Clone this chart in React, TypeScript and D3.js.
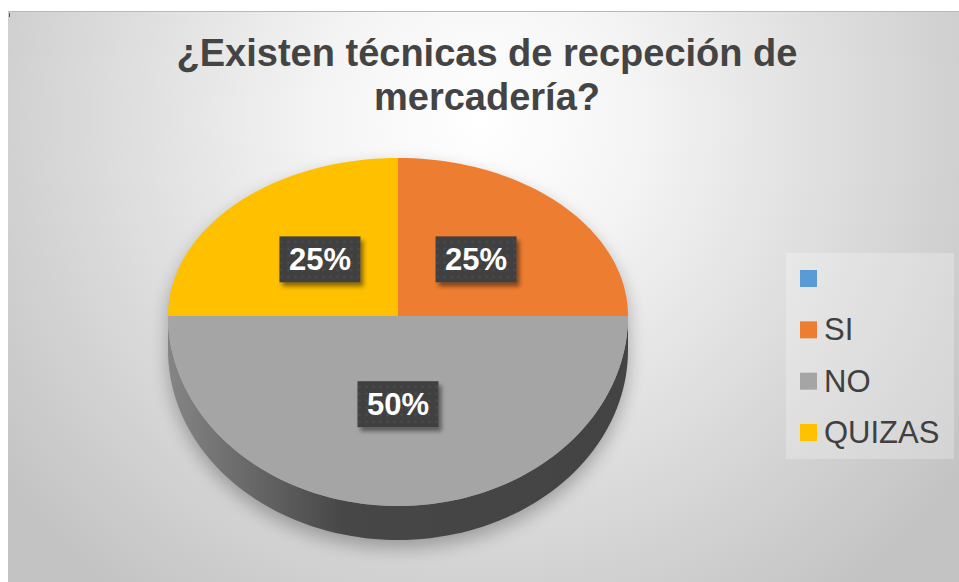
import React from "react";
import * as d3 from "d3";

// chart data
const categories = ["", "SI", "NO", "QUIZAS"];
const values = [0, 25, 50, 25];
const colors = ["#5B9BD5", "#ED7D31", "#A5A5A5", "#FFC000"];
const titleLines = ["¿Existen técnicas de recpeción de", "mercadería?"];

const W = 959;
const H = 582;
const FONT = "'Liberation Sans', Arial, sans-serif";

// pie geometry (tilted, near half drawn a bit taller)
const cx = 398;
const cy = 316;
const rx = 230;
const ryTop = 158;
const ryBot = 190;
const depth = 34;

const proj = (a: number, f = 1, dz = 0): [number, number] => {
  const c = Math.cos(a);
  const ry = c > 0 ? ryTop : ryBot;
  return [cx + rx * f * Math.sin(a), cy - ry * f * c + dz];
};

const arcPoints = (a0: number, a1: number, dz = 0) => {
  const n = Math.max(2, Math.ceil(((a1 - a0) / Math.PI) * 90));
  return d3.range(n + 1).map((i) => proj(a0 + ((a1 - a0) * i) / n, 1, dz));
};

const line = d3.line();

const App = () => {
  const pieGen = d3
    .pie<number>()
    .sort(null)
    .value((d) => d);
  const slices = pieGen(values);

  const legendY = d3.scalePoint<string>().domain(categories).range([270, 424]);

  // side wall: front half only (PI/2 .. 3PI/2)
  const sides = slices
    .map((s, i) => {
      const a0 = Math.max(s.startAngle, Math.PI / 2);
      const a1 = Math.min(s.endAngle, (3 * Math.PI) / 2);
      if (a1 <= a0) return null;
      const top = arcPoints(a0, a1);
      const bot = arcPoints(a0, a1, depth).reverse();
      return { i, d: line([...top, ...bot]) + "Z" };
    })
    .filter(Boolean) as { i: number; d: string }[];

  const outline =
    line([
      ...arcPoints(-Math.PI / 2, Math.PI / 2),
      ...arcPoints(Math.PI / 2, (3 * Math.PI) / 2, depth),
    ]) + "Z";

  return (
    <svg
      width={W}
      height={H}
      style={{ position: "absolute", left: 0, top: 0 }}
      fontFamily={FONT}
    >
      <defs>
        <radialGradient
          id="bg"
          gradientUnits="userSpaceOnUse"
          cx={480}
          cy={120}
          r={600}
        >
          <stop offset="0" stopColor="#ffffff" />
          <stop offset="0.25" stopColor="#f5f5f5" />
          <stop offset="0.8" stopColor="#d0d0d0" />
          <stop offset="1" stopColor="#c3c3c3" />
        </radialGradient>
        <linearGradient id="side" x1="0" x2="1" y1="0" y2="0">
          <stop offset="0" stopColor="#858585" />
          <stop offset="0.38" stopColor="#474747" />
          <stop offset="1" stopColor="#434343" />
        </linearGradient>
        <filter id="blur" x="-20%" y="-20%" width="140%" height="140%">
          <feGaussianBlur stdDeviation="9" />
        </filter>
        <filter id="lblShadow" x="-20%" y="-20%" width="150%" height="150%">
          <feDropShadow dx="3" dy="4" stdDeviation="2" floodColor="#000" floodOpacity="0.45" />
        </filter>
        <pattern id="dots" width="7" height="7" patternUnits="userSpaceOnUse">
          <rect width="7" height="7" fill="#404040" />
          <circle cx="3.5" cy="3.5" r="1.3" fill="#4c4c4c" />
        </pattern>
      </defs>

      <rect x={0} y={0} width={W} height={H} fill="#fff" />
      <rect x={8} y={11} width={W - 8} height={H - 11} fill="url(#bg)" />
      <line x1={8} x2={W} y1={11.5} y2={11.5} stroke="#b9b9b9" />
      <line x1={9.5} x2={9.5} y1={13} y2={17} stroke="#555" />

      {titleLines.map((t, i) => (
        <text
          key={i}
          x={487}
          y={66 + i * 44}
          textAnchor="middle"
          fontSize={38}
          fontWeight="bold"
          fill="#444"
        >
          {t}
        </text>
      ))}

      {/* shadow */}
      <path
        d={outline}
        transform="translate(0,8)"
        fill="#000"
        opacity={0.28}
        filter="url(#blur)"
      />

      {sides.map((s) => (
        <path key={"s" + s.i} d={s.d} fill="url(#side)" />
      ))}

      {slices.map((s, i) =>
        s.endAngle > s.startAngle ? (
          <path
            key={"t" + i}
            d={line([[cx, cy], ...arcPoints(s.startAngle, s.endAngle)]) + "Z"}
            fill={colors[i]}
          />
        ) : null
      )}

      {slices.map((s, i) => {
        if (s.endAngle <= s.startAngle) return null;
        const [lx, ly] = proj((s.startAngle + s.endAngle) / 2, 0.48);
        return (
          <g key={"l" + i} transform={`translate(${lx},${ly - 3})`}>
            <rect
              x={-40.5}
              y={-23}
              width={81}
              height={46}
              fill="url(#dots)"
              filter="url(#lblShadow)"
            />
            <text
              y={11}
              textAnchor="middle"
              fontSize={31}
              fontWeight="bold"
              fill="#fff"
            >
              {d3.format(".0%")(s.data / d3.sum(values))}
            </text>
          </g>
        );
      })}

      <g>
        <rect x={786} y={253} width={168} height={206} fill="#fff" opacity={0.25} />
        {categories.map((c, i) => (
          <g key={"g" + i} transform={`translate(800,${legendY(c)})`}>
            <rect width={17} height={17} fill={colors[i]} />
            <text x={24} y={19} fontSize={31} fill="#404040">
              {c}
            </text>
          </g>
        ))}
      </g>
    </svg>
  );
};

export default App;
